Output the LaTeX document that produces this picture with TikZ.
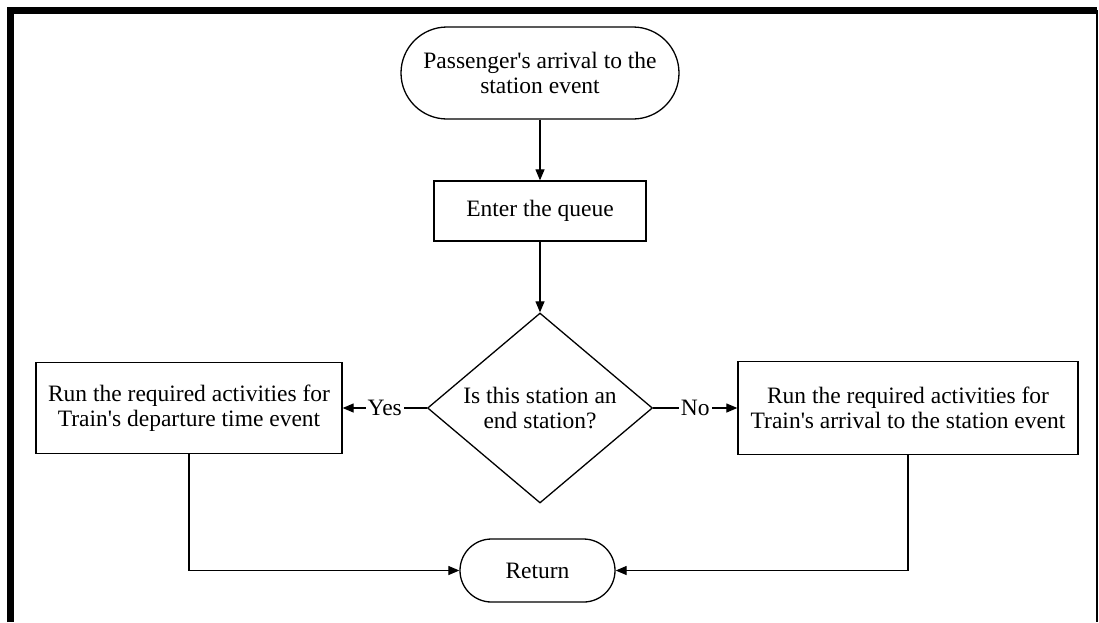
\documentclass[tikz,border=0pt]{standalone}
\usepackage{fontspec}
\setmainfont{Liberation Serif}[Ligatures=TeXOff]
\usetikzlibrary{shapes.geometric,arrows.meta}
\begin{document}
\begin{tikzpicture}[x=1pt,y=-1pt,
  every node/.style={font=\fontsize{23.5}{25}\selectfont, align=center},
  shape outline/.style={draw, line width=1.3pt, inner sep=0pt},
  procbox/.style={shape outline, rectangle},
  terminal/.style={shape outline, rectangle},
  decision/.style={shape outline, diamond, aspect=1.18},
  flow/.style={line width=1.2pt, -{Triangle[length=11pt,width=9pt]}},
  branchlabel/.style={fill=white, inner sep=2pt}
]
% page extent
\useasboundingbox (0,0) rectangle (1099,622);

% frame: heavy left and top edges, thin right edge
\draw[line width=7pt] (10,622) -- (10,10) -- (1097,10);
\draw[line width=2pt] (1097,10) -- (1097,622);

% flowchart nodes
\node[terminal, rounded corners=46pt, minimum width=278pt, minimum height=92pt]
  (start) at (540,73) {Passenger's arrival to the\\station event};
\node[procbox, minimum width=212pt, minimum height=60pt]
  (queue) at (540,211) {Enter the queue};
\node[decision, minimum width=225pt, minimum height=190pt]
  (end) at (540,408) {Is this station an\\end station?};
\node[procbox, minimum width=306pt, minimum height=91pt]
  (depart) at (189,408) {Run the required activities for\\Train's departure time event};
\node[procbox, minimum width=340pt, minimum height=93pt]
  (arrive) at (908,408) {Run the required activities for\\Train's arrival to the station event};
\node[terminal, rounded corners=31.5pt, minimum width=155pt, minimum height=63pt]
  (ret) at (537.5,570.5) {Return};

% connectors
\draw[flow] (start) -- (queue);
\draw[flow] (queue) -- (end);
\draw[flow] (end.west) -- node[branchlabel] {Yes} (depart.east);
\draw[flow] (end.east) -- node[branchlabel] {No} (arrive.west);
\draw[flow] (depart.south) |- (ret.west);
\draw[flow] (arrive.south) |- (ret.east);
\end{tikzpicture}
\end{document}
